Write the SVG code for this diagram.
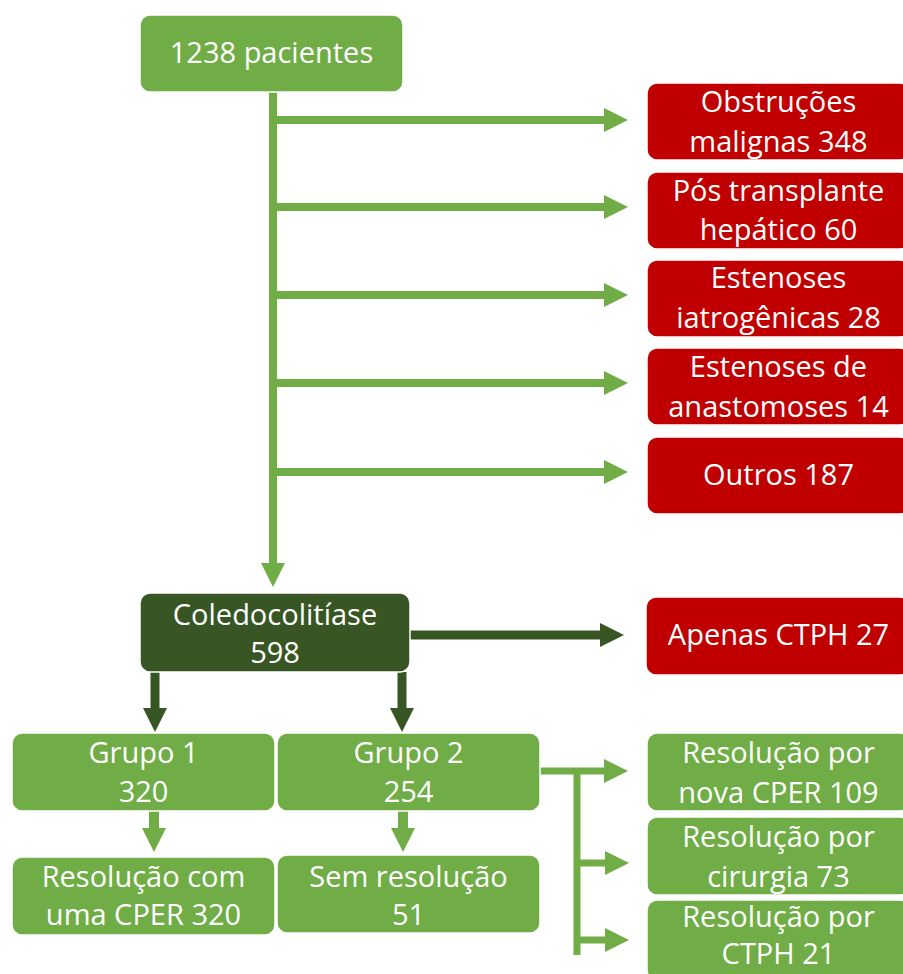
<svg xmlns="http://www.w3.org/2000/svg" width="903" height="974" viewBox="0 0 903 974">
<style>
.g{fill:#70AD47;stroke:#fff;stroke-width:1.5}
.d{fill:#375623;stroke:#fff;stroke-width:1.5}
.r{fill:#C00000;stroke:#fff;stroke-width:1.5}
text{font-family:"Open Sans","Noto Sans","Liberation Sans",sans-serif;font-size:29px;fill:#fff;text-anchor:middle}
.cg{stroke:#70AD47;stroke-width:8;fill:none}
.cd{stroke:#375623;stroke-width:9;fill:none}
</style>
<defs>
<marker id="ag" markerUnits="userSpaceOnUse" markerWidth="24" markerHeight="24" refX="0" refY="12" orient="auto" viewBox="0 0 24 24"><path d="M0,0 L24,12 L0,24 z" fill="#70AD47"/></marker>
<marker id="ad" markerUnits="userSpaceOnUse" markerWidth="24" markerHeight="24" refX="0" refY="12" orient="auto" viewBox="0 0 24 24"><path d="M0,0 L24,12 L0,24 z" fill="#375623"/></marker>
</defs>
<g id="connectors">
<path class="cg" d="M273,92 V563" marker-end="url(#ag)"/>
<path class="cg" d="M273,120 H604" marker-end="url(#ag)"/>
<path class="cg" d="M273,207 H604" marker-end="url(#ag)"/>
<path class="cg" d="M273,295 H604" marker-end="url(#ag)"/>
<path class="cg" d="M273,383 H604" marker-end="url(#ag)"/>
<path class="cg" d="M273,472 H604" marker-end="url(#ag)"/>
<path class="cd" d="M155,672 V708" marker-end="url(#ad)"/>
<path class="cd" d="M402,672 V708" marker-end="url(#ad)"/>
<path class="cd" d="M410,635 H600" marker-end="url(#ad)"/>
<path class="cg" style="stroke-width:10" d="M154,811 V828" marker-end="url(#ag)"/>
<path class="cg" style="stroke-width:10" d="M403,811 V828" marker-end="url(#ag)"/>
<path class="cg" style="stroke-width:7" d="M540,771 H604" marker-end="url(#ag)"/>
<path class="cg" style="stroke-width:7" d="M577,771 V955"/>
<path class="cg" style="stroke-width:7" d="M577,863 H605" marker-end="url(#ag)"/>
<path class="cg" style="stroke-width:7" d="M577,940 H605" marker-end="url(#ag)"/>
</g>
<g id="n-pacientes"><rect class="g" x="140" y="15" width="263" height="77" rx="10"/><text x="271.5" y="63">1238 pacientes</text></g>
<g id="n-malignas"><rect class="r" x="647" y="83" width="263" height="77" rx="10"/><text x="778.5" y="112">Obstruções</text><text x="778.5" y="152">malignas 348</text></g>
<g id="n-transplante"><rect class="r" x="647" y="172" width="263" height="77" rx="10"/><text x="778.5" y="201">Pós transplante</text><text x="778.5" y="240">hepático 60</text></g>
<g id="n-iatrogenicas"><rect class="r" x="647" y="260" width="263" height="77" rx="10"/><text x="778.5" y="288">Estenoses</text><text x="778.5" y="328">iatrogênicas 28</text></g>
<g id="n-anastomoses"><rect class="r" x="647" y="348" width="263" height="77" rx="10"/><text x="778.5" y="377">Estenoses de</text><text x="778.5" y="417">anastomoses 14</text></g>
<g id="n-outros"><rect class="r" x="647" y="437" width="263" height="77" rx="10"/><text x="778.5" y="485">Outros 187</text></g>
<g id="n-coledoco"><rect class="d" x="140" y="593" width="270" height="79" rx="10"/><text x="275" y="625">Coledocolitíase</text><text x="275" y="663">598</text></g>
<g id="n-ctph"><rect class="r" x="646" y="597" width="264" height="78" rx="10"/><text x="778.5" y="645">Apenas CTPH 27</text></g>
<g id="n-grupo1"><rect class="g" x="12" y="733" width="263" height="78" rx="10"/><text x="143.5" y="763">Grupo 1</text><text x="143.5" y="802">320</text></g>
<g id="n-grupo2"><rect class="g" x="277" y="733" width="263" height="78" rx="10"/><text x="408.5" y="763">Grupo 2</text><text x="408.5" y="802">254</text></g>
<g id="n-res1"><rect class="g" x="12" y="857" width="263" height="78" rx="10"/><text x="143.5" y="887">Resolução com</text><text x="143.5" y="925">uma CPER 320</text></g>
<g id="n-semres"><rect class="g" x="277" y="855" width="263" height="78" rx="10"/><text x="408.5" y="887">Sem resolução</text><text x="408.5" y="925">51</text></g>
<g id="n-novacper"><rect class="g" x="647" y="733" width="263" height="78" rx="10"/><text x="778.5" y="763">Resolução por</text><text x="778.5" y="803">nova CPER 109</text></g>
<g id="n-cirurgia"><rect class="g" x="647" y="817" width="263" height="78" rx="10"/><text x="778.5" y="847">Resolução por</text><text x="778.5" y="887">cirurgia 73</text></g>
<g id="n-ctph21"><rect class="g" x="647" y="900" width="263" height="80" rx="10"/><text x="778.5" y="927">Resolução por</text><text x="778.5" y="964">CTPH 21</text></g>
</svg>
